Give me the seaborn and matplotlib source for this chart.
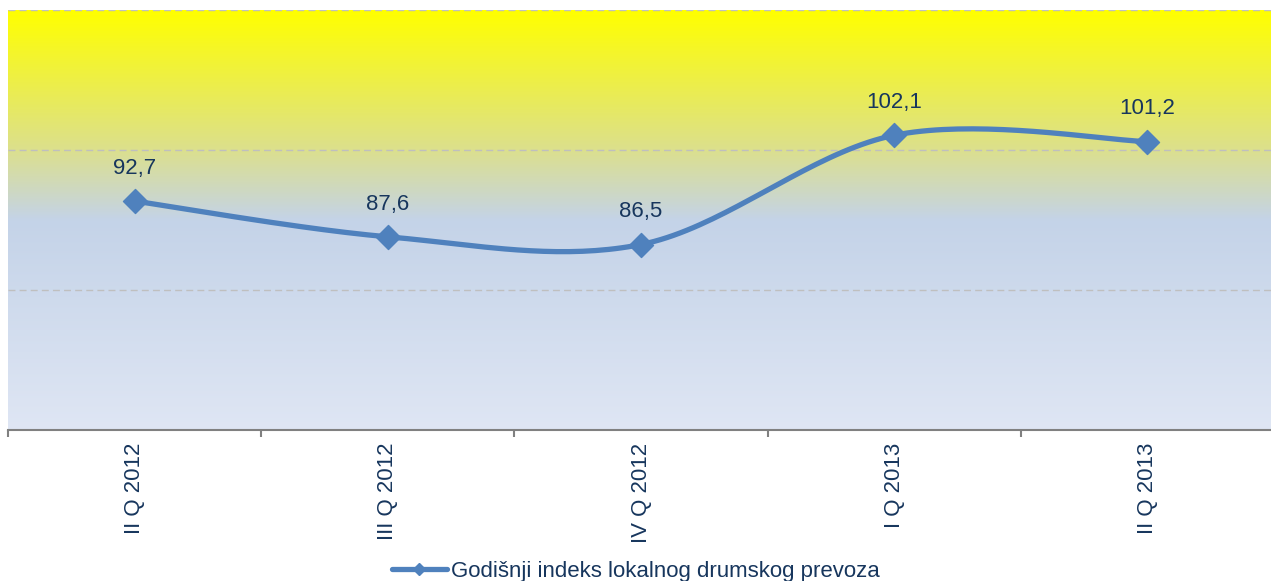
import numpy as np
import pandas as pd
import seaborn as sns
import matplotlib.pyplot as plt
from matplotlib.colors import LinearSegmentedColormap
from matplotlib.lines import Line2D

# --- data ---
quarters = ['II Q 2012', 'III Q 2012', 'IV Q 2012', 'I Q 2013', 'II Q 2013']
index_values = [92.7, 87.6, 86.5, 102.1, 101.2]
series_name = 'Godišnji indeks lokalnog drumskog prevoza'

sns.set_style('white')
plt.rcParams['font.family'] = ['Liberation Sans', 'DejaVu Sans']

line_color = '#4F81BD'
text_color = '#17365D'

df = pd.DataFrame({'pos': np.arange(len(quarters)), 'value': index_values})


# Excel-style smoothed line (Catmull-Rom as cubic bezier segments)
def smooth_curve(x, y, n=40):
    pts = np.column_stack([x, y]).astype(float)
    out = []
    for i in range(len(pts) - 1):
        p0 = pts[max(i - 1, 0)]
        p1 = pts[i]
        p2 = pts[i + 1]
        p3 = pts[min(i + 2, len(pts) - 1)]
        c1 = p1 + (p2 - p0) / 6.0
        c2 = p2 - (p3 - p1) / 6.0
        t = np.linspace(0, 1, n)[:, None]
        seg = ((1 - t) ** 3) * p1 + 3 * ((1 - t) ** 2) * t * c1 + 3 * (1 - t) * t ** 2 * c2 + t ** 3 * p2
        out.append(seg if i == 0 else seg[1:])
    out = np.vstack(out)
    return pd.DataFrame({'x': out[:, 0], 'y': out[:, 1]})


curve = smooth_curve(df['pos'], df['value'])

fig = plt.figure(figsize=(12.71, 5.81), dpi=100)
ax = fig.add_axes([8 / 1271, 151 / 581, 1266 / 1271, 420 / 581])

# gradient background
cmap = LinearSegmentedColormap.from_list('bg', [
    (0.0, '#FFFF00'),
    (0.33, '#DCE08C'),
    (0.50, '#C4D3E8'),
    (1.0, '#DFE6F4'),
])
grad = np.linspace(0, 1, 256)[:, None]
ax.imshow(grad, extent=[-0.5, 4.5, 60, 120], aspect='auto', cmap=cmap, zorder=0)

for gy in [80, 100, 120]:
    ax.axhline(gy, color='#BFBFBF', lw=1, ls=(0, (5, 3)), zorder=1)

sns.lineplot(data=curve, x='x', y='y', ax=ax, color=line_color, lw=3.8,
             sort=False, zorder=3, legend=False)
sns.scatterplot(data=df, x='pos', y='value', ax=ax, marker='D', s=150,
                color=line_color, edgecolor=line_color, zorder=4, legend=False)

for xp, v in zip(df['pos'], df['value']):
    ax.annotate(f'{v:.1f}'.replace('.', ','), (xp, v), xytext=(0, 16),
                textcoords='offset points', ha='center', va='bottom',
                fontsize=16, color=text_color)

ax.set_xlim(-0.5, 4.5)
ax.set_ylim(60, 120)
ax.set_yticks([])
ax.set_xticks(range(len(quarters)))
ax.set_xticklabels(quarters, rotation=90, fontsize=16, color=text_color)
ax.set_xticks(np.arange(-0.5, 5.0, 1.0), minor=True)
ax.tick_params(axis='x', which='major', bottom=True, length=0, pad=9)
ax.tick_params(axis='x', which='minor', bottom=True, length=5, width=1.5,
               color='#808080', direction='out')
ax.set_xlabel('')
ax.set_ylabel('')

for s in ['left', 'top', 'right']:
    ax.spines[s].set_visible(False)
ax.spines['bottom'].set_color('#808080')
ax.spines['bottom'].set_linewidth(1.5)
ax.spines['bottom'].set_zorder(5)

fig.legend([Line2D([], [], color=line_color, lw=3.8, marker='D', markersize=6)],
           [series_name], loc='center', bbox_to_anchor=(0.5, 10 / 581),
           frameon=False, fontsize=16, handlelength=2.5, handletextpad=0.15,
           labelcolor=text_color)

fig.savefig('out.png', dpi=100)
